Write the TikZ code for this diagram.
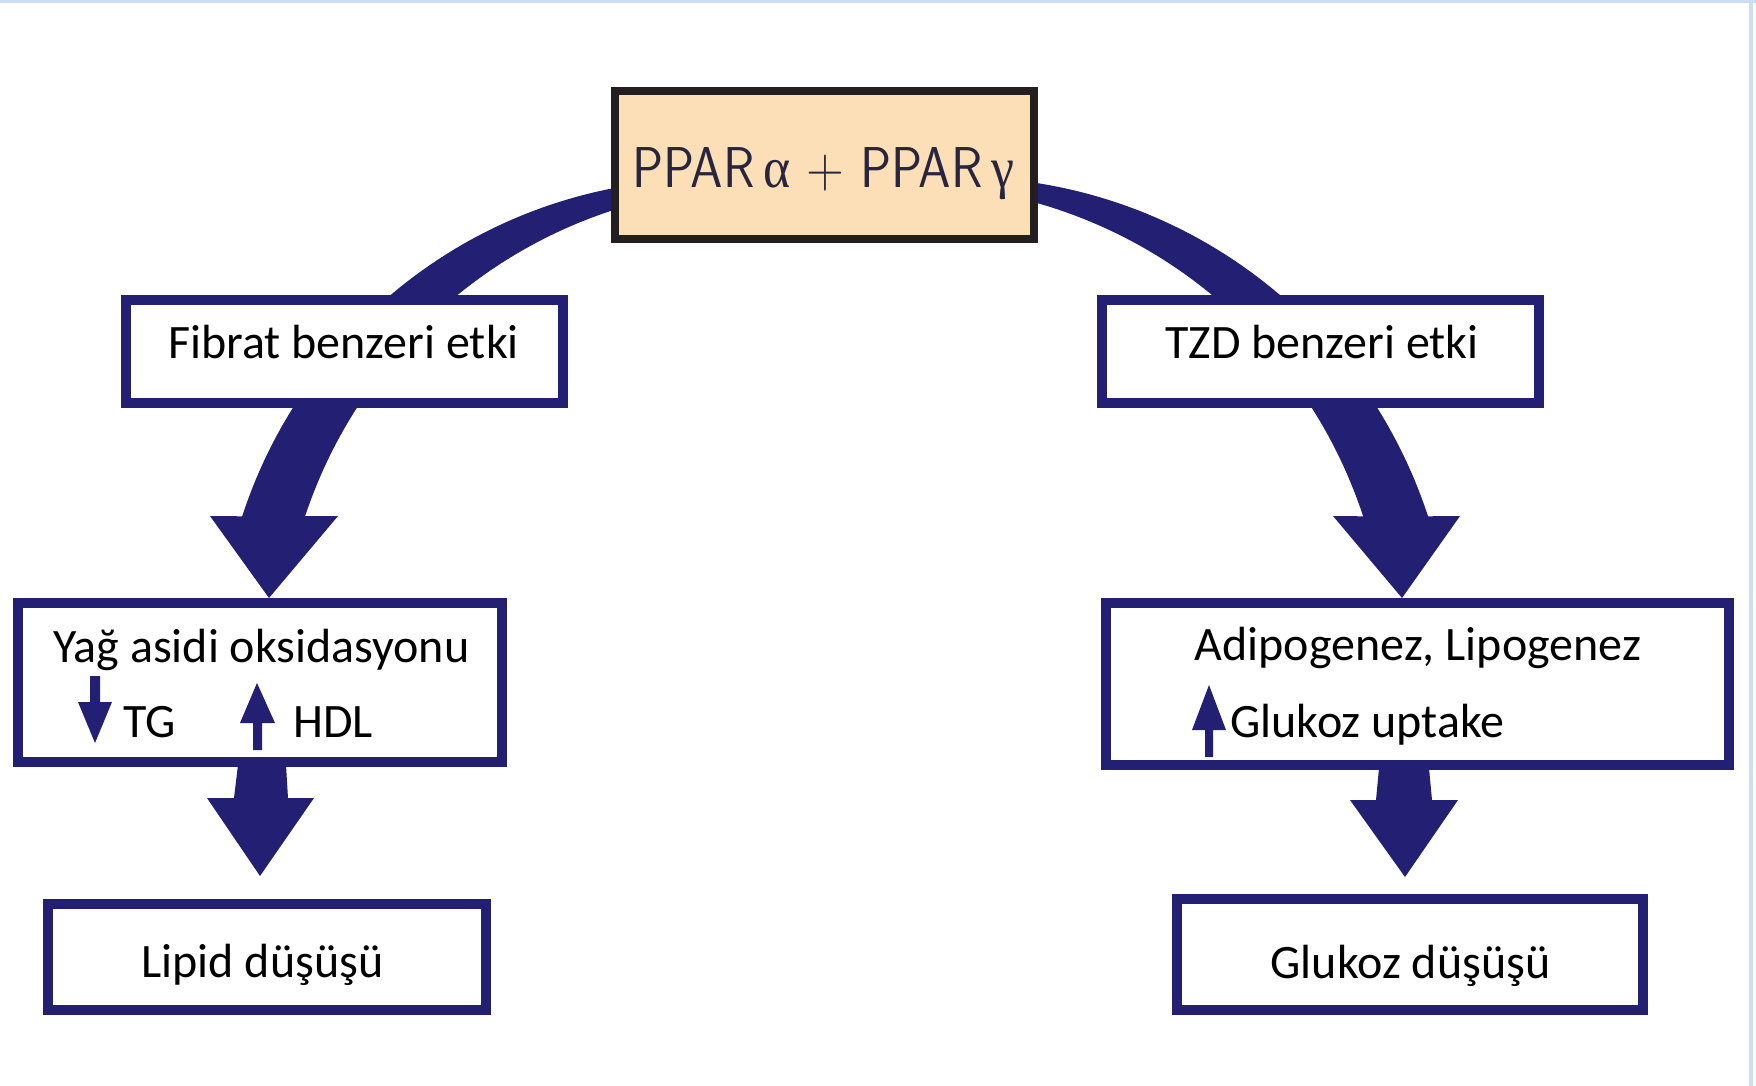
\documentclass[tikz,border=0pt]{standalone}
\usepackage{fontspec}
\setmainfont{Carlito}
\newfontfamily\greekf{Liberation Serif}
\usepackage{graphicx}
\usetikzlibrary{fit}
\definecolor{navy}{RGB}{35,31,114}
\definecolor{boxblack}{RGB}{35,31,32}
\definecolor{peach}{RGB}{253,223,183}
\definecolor{topink}{RGB}{40,38,62}
\definecolor{frameblue}{RGB}{205,222,242}
\begin{document}
\begin{tikzpicture}[x=0.5pt,y=-0.5pt,
  navybox/.style={draw=navy, line width=4.75pt, fill=white, inner sep=0pt},
  topbox/.style={draw=boxblack, line width=4pt, fill=peach, inner sep=0pt},
  lbl/.style={anchor=base, inner sep=0pt, font=\fontsize{24}{29}\selectfont, text=black},
  flow/.style={fill=navy}]
\useasboundingbox (0,0) rectangle (1756,1086);
\fill[white] (0,0) rectangle (1756,1086);
\fill[frameblue] (0,0) rectangle (1756,3);
\fill[frameblue] (1749,0) rectangle (1753,1086);

% big curved arrows
\fill[flow] plot[domain=-95:-162,samples=60] ({706+487.7*cos(\x)},{667+487.7*sin(\x)})
  -- (210,516) -- (269,598) -- (338,516)
  -- plot[domain=-161.6:-100,samples=60] ({762+481.5*cos(\x)},{668+481.5*sin(\x)}) -- cycle;
\fill[flow] plot[domain=-86.5:-18.1,samples=60] ({960.2+492.2*cos(\x)},{669.2+492.2*sin(\x)})
  -- (1460,516) -- (1402,598) -- (1333,516)
  -- plot[domain=-18.2:-81.1,samples=60] ({904.8+482.5*cos(\x)},{667+482.5*sin(\x)}) -- cycle;

% boxes
\node[topbox, fit={(615,91)(1034,239)}] (top) {};
\node[navybox, fit={(126,300)(563,403)}] (fib) {};
\node[navybox, fit={(1102,300)(1539,403)}] (tzd) {};
\node[navybox, fit={(18,603)(502,762)}] (yag) {};
\node[navybox, fit={(1106,603)(1729,765)}] (adi) {};
\node[navybox, fit={(48,904)(486,1010)}] (lip) {};
\node[navybox, fit={(1177,899)(1643,1010)}] (glu) {};

% straight arrows
\fill[flow] (238,765) -- (286,765) -- (288,798) -- (314,798) -- (260,876) -- (207,798) -- (234,798) -- cycle;
\fill[flow] (1379,768) -- (1429,768) -- (1432,800) -- (1458,800) -- (1405,877) -- (1350,800) -- (1376,800) -- cycle;

% small arrows
\fill[flow] (90,676) -- (100,676) -- (100,702) -- (112,702) -- (95,743) -- (78,702) -- (90,702) -- cycle;
\fill[flow] (257,683) -- (275,723) -- (262,723) -- (262,750) -- (253,750) -- (253,723) -- (240,723) -- cycle;
\fill[flow] (1209,685) -- (1226,730) -- (1213,730) -- (1213,757) -- (1205,757) -- (1205,730) -- (1192,730) -- cycle;

% texts
\node[anchor=base, inner sep=0pt, text=topink, font=\fontsize{28.8}{34}\selectfont\sffamily] (topT) at (823.5,187)
  {\scalebox{0.9}[1]{PPAR\,{\greekf α} + PPAR\,{\greekf γ}}};
\node[lbl] (fibT) at (343.5,358) {Fibrat benzeri etki};
\node[lbl] (tzdT) at (1322,358) {TZD benzeri etki};
\node[lbl] (yagT) at (261.5,662) {Yağ asidi oksidasyonu};
\node[lbl, anchor=base west] (tgT) at (123,737) {TG};
\node[lbl, anchor=base west] (hdlT) at (293,737) {HDL};
\node[lbl] (adiT) at (1418,660) {Adipogenez, Lipogenez};
\node[lbl, anchor=base west] (gluuT) at (1230,737) {Glukoz uptake};
\node[lbl] (lipT) at (262.5,977) {Lipid düşüşü};
\node[lbl] (gluT) at (1410.5,978) {Glukoz düşüşü};
\end{tikzpicture}
\end{document}
